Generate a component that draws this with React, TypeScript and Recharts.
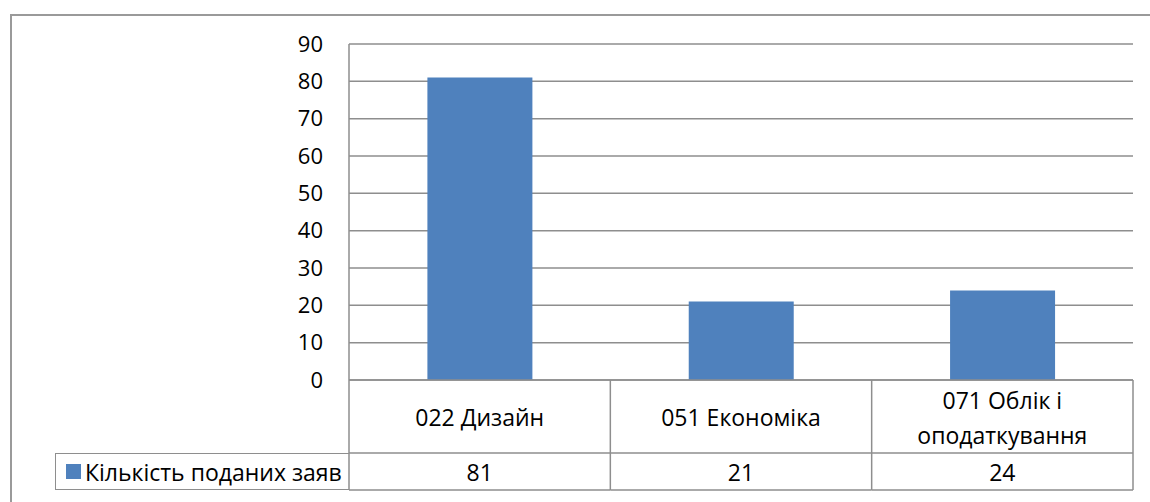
import React from 'react';
import { BarChart, Bar, XAxis, YAxis, CartesianGrid } from 'recharts';

const categories = ['022 Дизайн', '051 Економіка', '071 Облік і оподаткування'];
const counts = [81, 21, 24];
const yTicks = [0, 10, 20, 30, 40, 50, 60, 70, 80, 90];
const seriesName = 'Кількість поданих заяв';

const chartData = categories.map((name, i) => ({ name, value: counts[i] }));

const FONT = '"Open Sans", sans-serif';
const LINE = '#8e8e8e';
const BLUE = '#4f81bd';

// crude word wrap for long category names
function wrap(text: string, max: number) {
  const words = text.split(' ');
  const lines: string[] = [];
  let cur = '';
  words.forEach((w) => {
    const next = cur ? cur + ' ' + w : w;
    if (next.length > max && cur) {
      lines.push(cur);
      cur = w;
    } else {
      cur = next;
    }
  });
  if (cur) lines.push(cur);
  return lines;
}

function TableTick(props: any) {
  const { x, y, payload, index } = props;
  const half = payload.offset || 784 / 6;
  const left = x - half;
  const right = x + half;
  const rowTop = y + 73;
  const rowBottom = y + 110;
  const lines = wrap(payload.value, 16);
  const mid = y + 37;
  const lh = 35;
  const start = mid - ((lines.length - 1) * lh) / 2;
  return (
    <g>
      <line x1={left} y1={rowTop} x2={right} y2={rowTop} stroke={LINE} strokeWidth={1.5} />
      <line x1={left} y1={rowBottom} x2={right} y2={rowBottom} stroke={LINE} strokeWidth={1.5} />
      <line x1={right} y1={y} x2={right} y2={rowBottom} stroke={LINE} strokeWidth={1.5} />
      {index === 0 && <line x1={left} y1={y} x2={left} y2={rowBottom} stroke={LINE} strokeWidth={1.5} />}
      {lines.map((l, i) => (
        <text key={i} x={x} y={start + i * lh} textAnchor="middle" dominantBaseline="central"
          fontFamily={FONT} fontSize={23} fill="#000">{l}</text>
      ))}
      <text x={x} y={y + 92} textAnchor="middle" dominantBaseline="central"
        fontFamily={FONT} fontSize={23} fill="#000">{counts[index]}</text>
    </g>
  );
}

export default function App() {
  return (
    <div style={{ position: 'fixed', left: 0, top: 0, width: 1150, height: 502, background: '#fff', overflow: 'hidden' }}>
      <div style={{ position: 'absolute', left: 10, top: 14, width: 1200, height: 600, border: '2px solid #9a9a9a' }} />
      <div style={{ position: 'absolute', left: 0, top: 0 }}>
        <BarChart width={1150} height={502} data={chartData}
          margin={{ top: 44, right: 17, bottom: 12, left: 289 }} barCategoryGap="30%">
          <CartesianGrid vertical={false} stroke={LINE} strokeWidth={1.5} />
          <XAxis dataKey="name" height={110} tickLine={false} tickSize={0} tickMargin={0}
            axisLine={{ stroke: LINE, strokeWidth: 1.5 }} tick={<TableTick />} interval={0} />
          <YAxis domain={[0, 90]} ticks={yTicks} width={60} tickLine={false} tickSize={0} tickMargin={26}
            axisLine={{ stroke: LINE, strokeWidth: 1.5 }} interval={0}
            tick={{ fontFamily: FONT, fontSize: 22, fill: '#000' }} />
          <Bar dataKey="value" fill={BLUE} isAnimationActive={false} />
        </BarChart>
      </div>
      <div style={{ position: 'absolute', left: 55, top: 453, width: 294, height: 37, boxSizing: 'border-box',
        borderLeft: `1.5px solid ${LINE}`, borderTop: `1.5px solid ${LINE}`, borderBottom: `1.5px solid ${LINE}`,
        display: 'flex', alignItems: 'center', fontFamily: FONT, fontSize: 23, color: '#000', whiteSpace: 'nowrap' }}>
        <span style={{ display: 'inline-block', width: 15, height: 15, background: BLUE, marginLeft: 10, marginRight: 4 }} />
        {seriesName}
      </div>
    </div>
  );
}
